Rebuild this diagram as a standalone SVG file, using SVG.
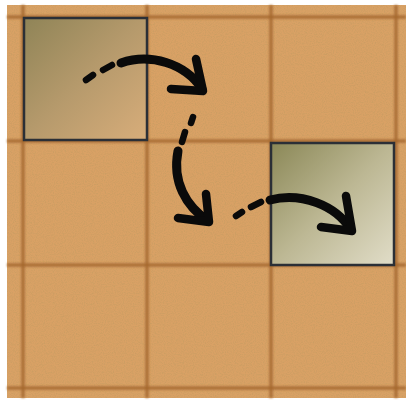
<svg xmlns="http://www.w3.org/2000/svg" width="406" height="400" viewBox="0 0 406 400">
  <defs>
    <style>
      .grid { stroke: #a5672f; stroke-width: 3.5; stroke-opacity: 0.85; fill: none; filter: url(#soft); }
      .sq { stroke: #2b2f36; stroke-width: 2.5; }
      .arr { fill: none; stroke: #0a0a0a; stroke-linecap: round; stroke-linejoin: round; }
      .dash { stroke-width: 6.5; }
      .body { stroke-width: 9; }
      .head { stroke-width: 8.5; }
    </style>
    <filter id="soft" x="-5%" y="-5%" width="110%" height="110%">
      <feGaussianBlur stdDeviation="0.9"/>
    </filter>
    <filter id="grain" x="0" y="0" width="100%" height="100%">
      <feTurbulence type="fractalNoise" baseFrequency="0.9" numOctaves="2" seed="3" result="n"/>
      <feColorMatrix in="n" type="matrix" values="0 0 0 0 0.55  0 0 0 0 0.33  0 0 0 0 0.12  0 0 0 -2.2 1.35"/>
      <feComposite in2="SourceGraphic" operator="in"/>
    </filter>
    <linearGradient id="g1" x1="0" y1="0" x2="1" y2="1">
      <stop offset="0" stop-color="#8f8457"/>
      <stop offset="0.5" stop-color="#b69a6c"/>
      <stop offset="1" stop-color="#d8ad7a"/>
    </linearGradient>
    <linearGradient id="g2" x1="0" y1="0" x2="1" y2="1">
      <stop offset="0" stop-color="#8b8857"/>
      <stop offset="0.5" stop-color="#bcb793"/>
      <stop offset="1" stop-color="#e1ddc8"/>
    </linearGradient>
  </defs>

  <rect width="406" height="400" fill="#ffffff"/>
  <g id="board">
    <rect x="7" y="5" width="399" height="393" fill="#d9a165"/>
    <rect x="7" y="5" width="399" height="393" fill="#d9a165" filter="url(#grain)" opacity="0.6"/>
    <g class="grid">
      <line x1="23" y1="5" x2="23" y2="398"/>
      <line x1="147" y1="5" x2="147" y2="398"/>
      <line x1="271" y1="5" x2="271" y2="398"/>
      <line x1="396" y1="5" x2="396" y2="398"/>
      <line x1="7" y1="17" x2="406" y2="17"/>
      <line x1="7" y1="141" x2="406" y2="141"/>
      <line x1="7" y1="265" x2="406" y2="265"/>
      <line x1="7" y1="388" x2="406" y2="388"/>
    </g>
  </g>

  <g id="square-start">
    <rect class="sq" x="24" y="18" width="123" height="122" fill="url(#g1)"/>
  </g>
  <g id="square-end">
    <rect class="sq" x="271" y="143" width="123" height="122" fill="url(#g2)"/>
  </g>

  <g id="connectors" class="arr">
    <g id="arrow-1">
      <path class="dash" d="M86,80 L93,75"/>
      <path class="dash" d="M103,70 L112,65"/>
      <path class="body" d="M121,63 C150,53 185,63 202,89"/>
      <path class="head" d="M196,59 L203,91 L171,89"/>
    </g>
    <g id="arrow-2">
      <path class="dash" d="M193,117 L191,123"/>
      <path class="dash" d="M185,132 L182,142"/>
      <path class="body" d="M178,151 C172,182 186,206 208,221"/>
      <path class="head" d="M206,194 L209,222 L178,218"/>
    </g>
    <g id="arrow-3">
      <path class="dash" d="M236,216 L242,212"/>
      <path class="dash" d="M251,207 L261,202"/>
      <path class="body" d="M270,200 C301,192 336,205 351,230"/>
      <path class="head" d="M346,196 L352,231 L321,227"/>
    </g>
  </g>
</svg>
